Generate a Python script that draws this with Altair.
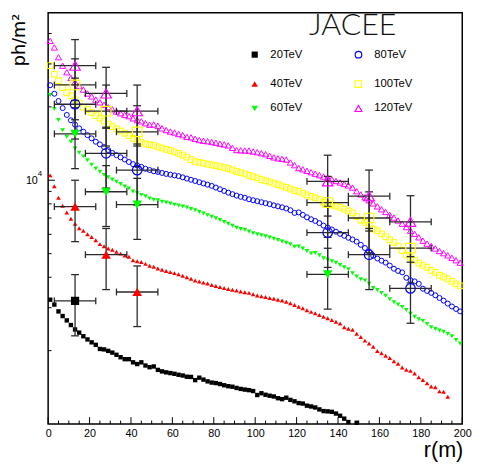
import altair as alt
import pandas as pd

# ---------------- data ----------------
r_grid = [1 + 2 * i for i in range(100)]  # simulation bin centres (m)

vals_20 = [3236, 3090, 2897, 2773, 2661, 2547, 2443, 2371, 2291, 2223,
           2163, 2113, 2032, 2023, 1995, 1963, 1923, 1879, 1845, 1845,
           1791, 1762, 1791, 1738, 1710, 1722, 1667, 1644, 1629, 1618,
           1607, 1592, 1581, 1563, 1560, 1514, 1549, 1521, 1496, 1479,
           1472, 1459, 1442, 1429, 1422, 1406, 1393, 1384, 1377, 1365,
           1315, 1337, 1318, 1306, 1297, 1276, 1265, 1282, 1256, 1239,
           1219, 1213, 1189, 1180, 1169, 1148, 1130, 1127, 1122, 1104,
           1081, 1052, 1019, None, 1012]
vals_40 = [10471, 9441, 8472, 7852, 7379, 6950, 6637, 6353, 6209, 5998,
           5848, 5675, 5470, 5358, 5248, 5188, 5093, 5000, 4909, 4853,
           4699, 4656, 4624, 4539, 4457, 4416, 4345, 4295, 4246, 4198,
           4159, 4111, 4055, 3999, 3945, 3882, 3846, 3802, 3767, 3715,
           3681, 3648, 3614, 3581, 3556, 3532, 3499, 3475, 3451, 3404,
           3365, 3342, 3319, 3289, 3266, 3236, 3214, 3177, 3126, 3076,
           3027, 2985, 2931, 2884, 2844, 2799, 2754, 2716, 2673, 2630,
           2582, 2495, 2460, 2438, 2344, 2275, 2198, 2138, 2075, 1995,
           1950, 1905, 1866, 1811, 1766, 1706, 1671, 1652, 1611, 1556,
           1517, 1469, 1426, 1416, 1361, 1355, 1294]
vals_60 = [22387, 19588, 17660, 16032, 15066, 14388, 13490, 12972, 12531, 12078,
           11588, 11169, 10839, 10520, 10280, 10069, 9863, 9661, 9419, 9247,
           8995, 8851, 8710, 8590, 8414, 8318, 8279, 8166, 8110, 8035,
           7943, 7870, 7798, 7727, 7621, 7534, 7413, 7311, 7194, 7079,
           6982, 6871, 6745, 6637, 6501, 6383, 6310, 6266, 6166, 6067,
           5998, 5943, 5888, 5821, 5754, 5689, 5610, 5546, 5458, 5333,
           5346, 5248, 5129, 5012, 5035, 4920, 4786, 4721, 4656, 4592,
           4487, 4395, 4315, 4150, 4027, 3926, 3882, 3758, 3614, 3548,
           3451, 3357, 3251, 3162, 3090, 3020, 2938, 2831, 2754, 2692,
           2649, 2570, 2495, 2455, 2421, 2388, 2339, 2291, 2213, 2138]
vals_80 = [24547, 22646, 21135, 19770, 18535, 17620, 16904, 16331, 15812, 15311,
           14859, 14388, 14028, 13677, 13305, 12942, 12677, 12417, 12162, 11885,
           11641, 11508, 11350, 11143, 11015, 10889, 10814, 10715, 10617, 10544,
           10471, 10399, 10280, 10162, 10046, 9931, 9817, 9705, 9594, 9484,
           9333, 9183, 9036, 8892, 8770, 8650, 8551, 8472, 8356, 8279,
           8204, 8128, 8054, 7980, 7889, 7816, 7745, 7656, 7534, 7345,
           7379, 7211, 7047, 6918, 6808, 6668, 6516, 6397, 6281, 6152,
           6026, 5916, 5808, 5715, 5598, 5433, 5272, 5105, 4898, 4775,
           4677, 4592, 4467, 4335, 4246, 4188, 3981, 3890, 3846, 3758,
           3589, 3516, 3451, 3373, 3289, 3206, 3119, 3034, 2965, 2897]
vals_100 = [29512, 27227, 25586, 23988, 22909, 22233, 21380, 20701, 19953, 19498,
            18967, 18408, 17989, 17498, 16982, 16596, 16255, 15922, 15596, 15241,
            14859, 14555, 14289, 14093, 13996, 13900, 13709, 13552, 13397, 13243,
            13062, 12882, 12677, 12445, 12162, 11940, 11830, 11749, 11641, 11561,
            11482, 11376, 11272, 11169, 11015, 10864, 10740, 10617, 10471, 10351,
            10233, 10069, 9954, 9840, 9727, 9594, 9484, 9354, 9204, 9078,
            8995, 8851, 8710, 8590, 8472, 8337, 8128, 8017, 7907, 7834,
            7745, 7621, 7482, 7345, 7096, 6855, 6714, 6531, 6310, 6209,
            6026, 5861, 5702, 5559, 5370, 5152, 4932, 4808, 4699, 4571,
            4477, 4395, 4266, 4188, 4074, 4009, 3936, 3846, 3758, 3690]
vals_120 = [37325, 35075, 31989, 29512, 27733, 26303, 25235, 24378, 23550, 22699,
            22080, 21429, 20893, 20417, 19953, 19543, 19143, 18836, 18535, 18323,
            17947, 17660, 17458, 17140, 16904, 16943, 16749, 16331, 16069, 15849,
            15704, 15488, 15311, 15066, 14997, 14791, 14622, 14521, 14454, 14355,
            14256, 14125, 14028, 13900, 13583, 13305, 13274, 13243, 13243, 13122,
            13032, 12912, 12794, 12589, 12417, 12303, 12246, 12162, 11830, 11535,
            11220, 11092, 10940, 10789, 10641, 10495, 10351, 10233, 10093, 9931,
            9795, 9661, 9528, 9333, 9016, 8750, 8511, 8279, 8035, 7816,
            7603, 7413, 7211, 7031, 6839, 6637, 6427, 6209, 6026, 5834,
            5649, 5495, 5370, 5248, 5129, 5023, 4920, 4808, 4699, 4592]

# JACEE measurements
jac_r = [13, 28, 43, 135, 155, 175]
jac_r_err = [10, 10, 10, 10, 10, 10]
jac_20 = [3200, None, None, None, None, None]
jac_40 = [7800, 4950, 3480, None, None, None]
jac_60 = [15500, 8970, 7950, 4110, None, None]
jac_80 = [20500, 12900, 11000, 6100, 4950, 3600]
jac_100 = [24600, 19200, 15800, 8100, 7000, 5270]
jac_120 = [29500, 22700, 19200, 9900, 8600, 6750]
err_20 = [900, None, None, None, None, None]
err_40 = [2200, 1390, 970, None, None, None]
err_60 = [4340, 2510, 2230, 1150, None, None]
err_80 = [5740, 3610, 3080, 1710, 1390, 1010]
err_100 = [6890, 5380, 4420, 2270, 1960, 1480]
err_120 = [8260, 6360, 5380, 2770, 2410, 1890]

series_names = ["20TeV", "40TeV", "60TeV", "80TeV", "100TeV", "120TeV"]

x_major_ticks = [0, 20, 40, 60, 80, 100, 120, 140, 160, 180, 200]
x_minor_ticks = [v for v in range(0, 201, 5) if v % 20 != 0]
y_major_ticks = [10000]
y_minor_ticks = [2000, 3000, 4000, 5000, 6000, 7000, 8000, 9000, 20000, 30000, 40000]

# ---------------- style ----------------
W, H = 423, 420
FONT = "Liberation Sans"
colors = ["#000000", "#ff0000", "#00ff00", "#0000ff", "#ffff00", "#ff00ff"]
shapes = ["square", "triangle-up", "triangle-down", "circle", "square", "triangle-up"]
filled = [True, True, True, False, False, False]
small_size = [20, 22, 22, 26, 34, 40]
big_size = [70, 95, 95, 95, 95, 115]
legend_size = [40, 45, 45, 45, 45, 50]

xscale = alt.Scale(domain=[0, 200], nice=False, zero=False)
yscale = alt.Scale(type="log", domain=[1000, 48620], nice=False)
xaxis = alt.Axis(values=x_major_ticks, tickSize=0, domain=False, grid=False,
                 labelFont=FONT, labelFontSize=11, labelColor="black",
                 labelPadding=4, labelFlush=False, title=None)
yaxis = alt.Axis(values=[10000], labelExpr="'10'", tickSize=0, domain=False, grid=False,
                 labelFont=FONT, labelFontSize=11, labelColor="black",
                 labelPadding=11, title=None)


def X(f):
    return alt.X(f, type="quantitative", scale=xscale, axis=xaxis)


def Y(f):
    return alt.Y(f, type="quantitative", scale=yscale, axis=yaxis)


layers = []

# simulation curves
curve_vals = [vals_20, vals_40, vals_60, vals_80, vals_100, vals_120]
for i, vals in enumerate(curve_vals):
    df = pd.DataFrame({"r": r_grid[:len(vals)], "v": vals}).dropna()
    layers.append(
        alt.Chart(df).mark_point(shape=shapes[i], filled=filled[i], color=colors[i],
                                 size=small_size[i], strokeWidth=1, opacity=1)
        .encode(x=X("r"), y=Y("v"))
    )

# JACEE points with errors
jac_vals = [jac_20, jac_40, jac_60, jac_80, jac_100, jac_120]
jac_errs = [err_20, err_40, err_60, err_80, err_100, err_120]
rows = []
for i in range(6):
    for r, re, v, e in zip(jac_r, jac_r_err, jac_vals[i], jac_errs[i]):
        if v is None:
            continue
        rows.append({"s": i, "r": r, "v": v, "lo": r - re, "hi": r + re,
                     "ylo": v - e, "yhi": v + e})
jac = pd.DataFrame(rows)

EB = "#2a2a2a"
layers.append(alt.Chart(jac).mark_rule(color=EB, strokeWidth=1.3)
              .encode(x=X("lo"), x2="hi", y=Y("v")))
layers.append(alt.Chart(jac).mark_rule(color=EB, strokeWidth=1.3)
              .encode(x=X("r"), y=Y("ylo"), y2="yhi"))
for f in ["lo", "hi"]:
    layers.append(alt.Chart(jac).mark_tick(orient="vertical", color=EB, size=7, thickness=1.3, opacity=1)
                  .encode(x=X(f), y=Y("v")))
for f in ["ylo", "yhi"]:
    layers.append(alt.Chart(jac).mark_tick(orient="horizontal", color=EB, size=8, thickness=1.3, opacity=1)
                  .encode(x=X("r"), y=Y(f)))
for i in range(6):
    d = jac[jac["s"] == i]
    layers.append(
        alt.Chart(d).mark_point(shape=shapes[i], filled=filled[i], color=colors[i],
                                size=big_size[i], strokeWidth=1.2, opacity=1)
        .encode(x=X("r"), y=Y("v"))
    )

# inward ticks
layers.append(alt.Chart(pd.DataFrame({"t": x_major_ticks})).mark_rule(color="black", strokeWidth=1)
              .encode(x=X("t"), y=alt.value(H), y2=alt.value(H - 7)))
layers.append(alt.Chart(pd.DataFrame({"t": x_minor_ticks})).mark_rule(color="black", strokeWidth=1)
              .encode(x=X("t"), y=alt.value(H), y2=alt.value(H - 3.5)))
layers.append(alt.Chart(pd.DataFrame({"t": y_major_ticks})).mark_rule(color="black", strokeWidth=1)
              .encode(y=Y("t"), x=alt.value(0), x2=alt.value(7)))
layers.append(alt.Chart(pd.DataFrame({"t": y_minor_ticks})).mark_rule(color="black", strokeWidth=1)
              .encode(y=Y("t"), x=alt.value(0), x2=alt.value(3.5)))

# exponent of the 10^4 label
layers.append(alt.Chart(pd.DataFrame({"t": y_major_ticks, "e": ["4"]}))
              .mark_text(font=FONT, fontSize=8, align="left", baseline="middle", dy=-6, color="black")
              .encode(y=Y("t"), x=alt.value(-10.5), text="e:N"))

# legend (drawn by hand, ROOT-style two columns)
leg_x = [211, 317]
leg_y = [42.7, 72.7, 97.7]
for i, name in enumerate(series_names):
    cx = leg_x[i // 3]
    cy = leg_y[i % 3]
    ld = pd.DataFrame({"label": [name]})
    layers.append(alt.Chart(ld).mark_point(shape=shapes[i], filled=filled[i], color=colors[i],
                                           size=legend_size[i], strokeWidth=1.2, opacity=1)
                  .encode(x=alt.value(cx), y=alt.value(cy)))
    layers.append(alt.Chart(ld).mark_text(font=FONT, fontSize=11.5, align="left", baseline="middle",
                                          color="black")
                  .encode(x=alt.value(cx + 16), y=alt.value(cy), text="label:N"))

# titles
layers.append(alt.Chart(pd.DataFrame({"t": ["JACEE"]}))
              .mark_text(font="Lato", fontWeight=300, fontSize=31, align="center",
                         baseline="alphabetic", color="#111111")
              .encode(x=alt.value(311), y=alt.value(23), text="t:N"))
layers.append(alt.Chart(pd.DataFrame({"t": ["ph/m²"]}))
              .mark_text(font="DejaVu Sans", fontSize=18, align="right", baseline="alphabetic",
                         angle=270, color="black")
              .encode(x=alt.value(-24), y=alt.value(1), text="t:N"))
layers.append(alt.Chart(pd.DataFrame({"t": ["r(m)"]}))
              .mark_text(font=FONT, fontSize=22, align="right", baseline="alphabetic",
                         color="black")
              .encode(x=alt.value(W + 1), y=alt.value(H + 34), text="t:N"))

chart = (
    alt.layer(*layers)
    .properties(width=W, height=H,
                autosize=alt.AutoSizeParams(type="none"),
                padding={"left": 41, "top": 0, "right": 12, "bottom": 40})
    .configure_view(stroke="black", strokeWidth=1.5)
)

chart.save("out.html", embed_options={"renderer": "svg", "actions": False})
